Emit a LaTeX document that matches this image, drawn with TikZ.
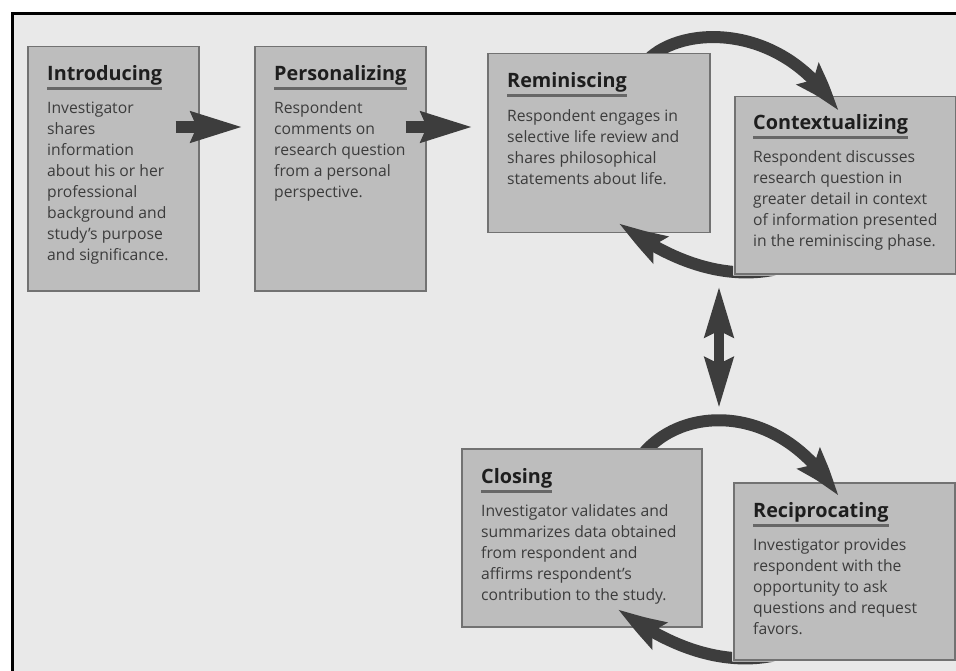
\documentclass[tikz,border=0pt]{standalone}
\usepackage{fontspec}
\setmainfont{Open Sans}
\usetikzlibrary{arrows.meta,bending}
\definecolor{bgc}{HTML}{E9E9E9}
\definecolor{boxfill}{HTML}{BDBDBD}
\definecolor{boxline}{HTML}{727272}
\definecolor{arrowc}{HTML}{3D3D3D}
\definecolor{titlec}{HTML}{1E1E1E}
\definecolor{bodyc}{HTML}{3C3C3C}
\definecolor{ulc}{HTML}{676767}
\newcommand\bodylines[1]{\begin{tabular}[t]{@{}l@{}}#1\end{tabular}}
\begin{document}
\begin{tikzpicture}[x=1pt,y=-1pt,
  box/.style={draw=boxline, line width=1.5pt, fill=boxfill, inner sep=0pt, anchor=north west},
  ttl/.style={anchor=base west, inner sep=0pt, text=titlec, font=\fontsize{19.8}{24}\selectfont\bfseries},
  bdy/.style={anchor=base west, inner sep=0pt, text=bodyc, font=\fontsize{15.7}{21}\selectfont},
  ulin/.style={draw=ulc, line width=3pt},
  fat/.style={draw=arrowc, line width=12pt, -{Stealth[length=51pt, width=29pt, inset=5pt]}},
  fatc/.style={draw=arrowc, line width=12pt, -{Stealth[length=50pt, width=29pt, inset=8pt, bend]}},
  dbl/.style={draw=arrowc, line width=10pt, {Stealth[length=50pt, width=28pt, inset=6pt]}-{Stealth[length=50pt, width=28pt, inset=6pt]}}]
\useasboundingbox (0,0) rectangle (956,671);
\fill[bgc] (12,14) rectangle (956,671);
\draw[black, line width=3pt] (12,671) -- (12,14) -- (956,14);

% Introducing
\node[box, minimum width=171pt, minimum height=244pt] (intro) at (27,46) {};
\node[ttl] (tintro) at ([shift={(20,35)}]intro.north west) {Introducing};
\draw[ulin] ([yshift=-8pt]tintro.base west) -- ([yshift=-8pt]tintro.base east);
\node[bdy] (bintro) at ([shift={(20,68)}]intro.north west) {\bodylines{Investigator\\shares\\information\\about his or her\\professional\\background and\\study’s purpose\\and significance.}};

% Personalizing
\node[box, minimum width=171pt, minimum height=244pt] (pers) at (254,46) {};
\node[ttl] (tpers) at ([shift={(20,35)}]pers.north west) {Personalizing};
\draw[ulin] ([yshift=-8pt]tpers.base west) -- ([yshift=-8pt]tpers.base east);
\node[bdy] (bpers) at ([shift={(20,68)}]pers.north west) {\bodylines{Respondent\\comments on\\research question\\from a personal\\perspective.}};

% straight arrows
\coordinate (a1s) at ([shift={(-24,81)}]intro.north east);
\coordinate (a1e) at ([shift={(-11,81)}]pers.north west);
\draw[fat] (a1s) -- (a1e);

% Contextualizing
\node[box, minimum width=221pt, minimum height=177pt] (ctx) at (734,96) {};
\node[ttl] (tctx) at ([shift={(19,34)}]ctx.north west) {Contextualizing};
\draw[ulin] ([yshift=-8pt]tctx.base west) -- ([yshift=-8pt]tctx.base east);
\node[bdy] (bctx) at ([shift={(19,67)}]ctx.north west) {\bodylines{Respondent discusses\\research question in\\greater detail in context\\of information presented\\in the reminiscing phase.}};

% Reminiscing
\node[box, minimum width=222pt, minimum height=179pt] (remin) at (487,53) {};
\coordinate (c1s) at ([shift={(153,17)}]remin.north west);
\draw[fatc] (c1s) .. controls (665,25) and (780,15) .. ([shift={(104,16)}]ctx.north west);
\node[box, minimum width=222pt, minimum height=179pt] at (487,53) {};
\node[ttl] (tremin) at ([shift={(20,35)}]remin.north west) {Reminiscing};
\draw[ulin] ([yshift=-8pt]tremin.base west) -- ([yshift=-8pt]tremin.base east);
\node[bdy] (bremin) at ([shift={(20,69)}]remin.north west) {\bodylines{Respondent engages in\\selective life review and\\shares philosophical\\statements about life.}};

\coordinate (a2s) at ([shift={(-21,81)}]pers.north east);
\coordinate (a2e) at ([shift={(-14,74)}]remin.north west);
\draw[fat] (a2s) -- (a2e);

% arc back to Reminiscing, hidden under Contextualizing
\begin{scope}
\clip (0,0) -- (956,0) -- (956,671) -- (0,671) -- cycle
  ([shift={(-1,-1)}]ctx.north west) -- ([shift={(-1,1)}]ctx.south west) -- ([shift={(1,1)}]ctx.south east) -- ([shift={(1,-1)}]ctx.north east) -- cycle;
\coordinate (c2s) at ([shift={(41,-5)}]ctx.south west);
\draw[fatc] (c2s) .. controls (725,280) and (670,262) .. ([shift={(132,-11)}]remin.south west);
\end{scope}

% Reciprocating
\node[box, minimum width=221pt, minimum height=177pt] (recip) at (733,482) {};
\node[ttl] (trecip) at ([shift={(20,35)}]recip.north west) {Reciprocating};
\draw[ulin] ([yshift=-8pt]trecip.base west) -- ([yshift=-8pt]trecip.base east);
\node[bdy] (brecip) at ([shift={(20,68)}]recip.north west) {\bodylines{Investigator provides\\respondent with the\\opportunity to ask\\questions and request\\favors.}};

% Closing
\node[box, minimum width=240pt, minimum height=178pt] (clos) at (461,448) {};
\coordinate (c3s) at ([shift={(167,32)}]clos.north west);
\draw[fatc] (c3s) .. controls (655,405) and (775,390) .. ([shift={(105,15)}]recip.north west);
\node[box, minimum width=240pt, minimum height=178pt] at (461,448) {};
\node[ttl] (tclos) at ([shift={(20,35)}]clos.north west) {Closing};
\draw[ulin] ([yshift=-8pt]tclos.base west) -- ([yshift=-8pt]tclos.base east);
\node[bdy] (bclos) at ([shift={(20,68)}]clos.north west) {\bodylines{Investigator validates and\\summarizes data obtained\\from respondent and\\affirms respondent’s\\contribution to the study.}};

\begin{scope}
\clip (0,0) -- (956,0) -- (956,671) -- (0,671) -- cycle
  ([shift={(-1,-1)}]recip.north west) -- ([shift={(-1,1)}]recip.south west) -- ([shift={(1,1)}]recip.south east) -- ([shift={(1,-1)}]recip.north east) -- cycle;
\coordinate (c4s) at ([shift={(41,-5)}]recip.south west);
\draw[fatc] (c4s) .. controls (724,666) and (669,648) .. ([shift={(157,-19)}]clos.south west);
\end{scope}

% double arrow
\coordinate (d1) at ([shift={(-15,12)}]ctx.south west);
\coordinate (d2) at ([shift={(-14,-74)}]recip.north west);
\draw[dbl] (d1) -- (d2);
\end{tikzpicture}
\end{document}
